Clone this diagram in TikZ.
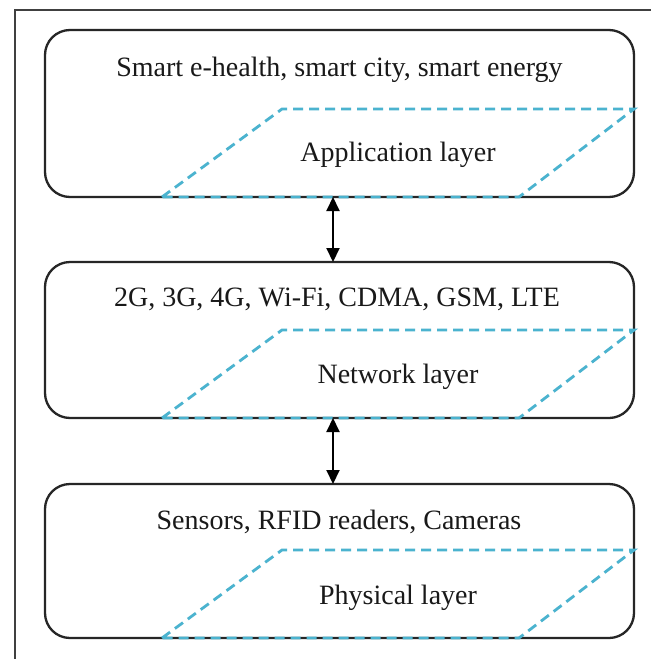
\documentclass[tikz,border=0pt]{standalone}
\usepackage{fontspec}
\setmainfont{Liberation Serif}
\usetikzlibrary{arrows.meta}
\definecolor{cyanish}{HTML}{4BB3CF}
\begin{document}
\begin{tikzpicture}[x=1pt,y=-1pt,
  layerbox/.style={draw=black!85, line width=2.3pt, rounded corners=25pt, minimum width=589pt, inner sep=0pt, outer sep=0pt},
  slant/.style={draw=cyanish, line width=2.8pt, dash pattern=on 10pt off 6pt},
  txt/.style={font=\fontsize{28}{32}\selectfont, anchor=base, inner sep=0pt, text=black!90},
  link/.style={line width=2pt, {Triangle[length=14pt,width=13pt]}-{Triangle[length=14pt,width=13pt]}}]
\useasboundingbox (0,0) rectangle (651,659);
\fill[white] (0,0) rectangle (651,659);
% outer frame
\draw[line width=1.8pt, draw=black!75] (15,659) -- (15,10) -- (651,10);
% layer boxes
\node[layerbox, minimum height=167pt] (b1) at (339.5,113.5) {};
\node[layerbox, minimum height=156pt] (b2) at (339.5,340) {};
\node[layerbox, minimum height=154pt] (b3) at (339.5,561) {};
% dashed parallelograms
\foreach \b in {b1,b2,b3}{
  \draw[slant] ([xshift=-177.5pt]\b.south) -- ++(120,-88) -- ++(352,0) -- ++(-115,88) -- cycle;
}
% texts
\node[txt] (t1) at (339.5,76) {Smart e-health, smart city, smart energy};
\node[txt] (l1) at (398,161) {Application layer};
\node[txt] (t2) at (337,306) {2G, 3G, 4G, Wi-Fi, CDMA, GSM, LTE};
\node[txt] (l2) at (398,383) {Network layer};
\node[txt] (t3) at (339,529) {Sensors, RFID readers, Cameras};
\node[txt] (l3) at (398,604) {Physical layer};
% connectors
\draw[link] ([xshift=-6.5pt]b1.south) -- ([xshift=-6.5pt]b2.north);
\draw[link] ([xshift=-6.5pt]b2.south) -- ([xshift=-6.5pt]b3.north);
\end{tikzpicture}
\end{document}
